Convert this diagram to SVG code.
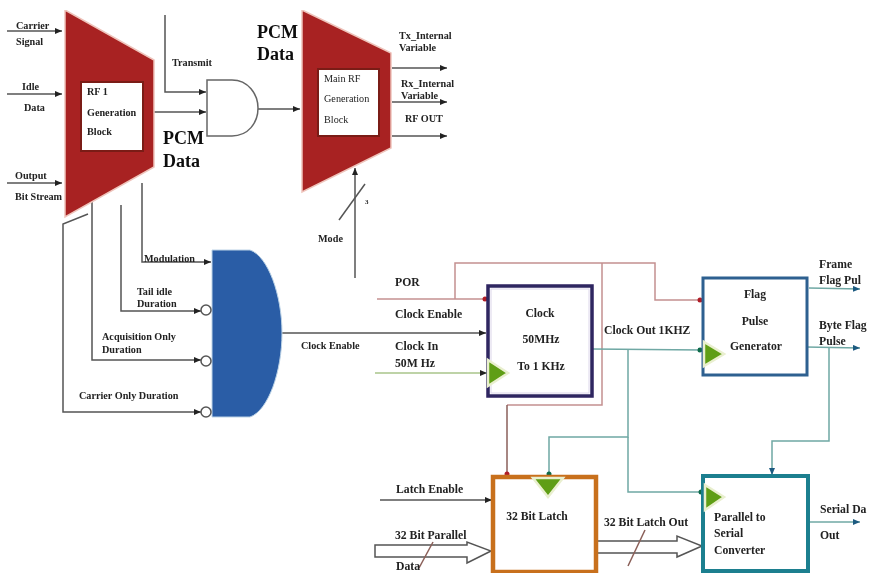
<svg xmlns="http://www.w3.org/2000/svg" width="870" height="574" viewBox="0 0 870 574">
<style>
text{font-family:"Liberation Serif","Times New Roman",serif;font-weight:bold;fill:#222}
.s{font-size:10.2px}
.m{font-size:11.7px}
.b{font-size:18px;fill:#111}
.w{fill:none;stroke-width:1.5;stroke-linejoin:miter}
.k{stroke:#555}
.p{stroke:#c49090}
.r{stroke:#8a5f58}
.t{stroke:#6fa8a4}
.g{stroke:#a9c48a}
.inv{fill:#fff;stroke:#555;stroke-width:1.5}
.trap{fill:#a82320;stroke:#efc4bc;stroke-width:1.5}
.inner{fill:#fff;stroke:#7a1a18;stroke-width:2}
.clk{fill:#5f9e12;stroke:#e9efcf;stroke-width:2.5}
</style>
<defs>
<marker id="ak" markerWidth="8" markerHeight="8" refX="7" refY="3" orient="auto" markerUnits="userSpaceOnUse"><path d="M0,0L7,3L0,6z" fill="#222"/></marker>
<marker id="ar" markerWidth="6" markerHeight="6" refX="5" refY="3" orient="auto" markerUnits="userSpaceOnUse"><circle cx="3" cy="3" r="2.5" fill="#b01c28"/></marker>
<marker id="ag" markerWidth="6" markerHeight="6" refX="5" refY="3" orient="auto" markerUnits="userSpaceOnUse"><circle cx="3" cy="3" r="2.5" fill="#0e6a4a"/></marker>
<marker id="ab" markerWidth="8" markerHeight="8" refX="7" refY="3" orient="auto" markerUnits="userSpaceOnUse"><path d="M0,0L7,3L0,6z" fill="#1d5a80"/></marker>
<filter id="soft" x="0" y="0" width="100%" height="100%"><feGaussianBlur stdDeviation="0.45"/></filter>
</defs>
<rect width="870" height="574" fill="#fff"/>
<g filter="url(#soft)">
<g id="connectors">
<path class="w k" marker-end="url(#ak)" d="M7,31H62"/>
<path class="w k" marker-end="url(#ak)" d="M7,94H62"/>
<path class="w k" marker-end="url(#ak)" d="M7,183H62"/>
<path class="w k" marker-end="url(#ak)" d="M165,15V92H206"/>
<path class="w k" marker-end="url(#ak)" d="M154,112H206"/>
<path class="w k" marker-end="url(#ak)" d="M258,109H300"/>
<path class="w k" marker-end="url(#ak)" d="M392,68H447"/>
<path class="w k" marker-end="url(#ak)" d="M392,102H447"/>
<path class="w k" marker-end="url(#ak)" d="M392,136H447"/>
<path class="w k" marker-end="url(#ak)" d="M355,278V168"/>
<path class="w k" d="M339,220L365,184"/>
<path class="w k" marker-end="url(#ak)" d="M142,183V262H211"/>
<path class="w k" marker-end="url(#ak)" d="M121,205V311H201"/>
<path class="w k" marker-end="url(#ak)" d="M92,185V360H201"/>
<path class="w k" marker-end="url(#ak)" d="M88,214L63,224V412H201"/>
<path class="w k" marker-end="url(#ak)" d="M282,333H486"/>
<path class="w p" marker-end="url(#ar)" d="M377,299H487"/>
<path class="w p" marker-end="url(#ar)" d="M455,299V263H655V300H702"/>
<path class="w p" d="M602,263V405H507"/>
<path class="w r" marker-end="url(#ar)" d="M507,405V476"/>
<path class="w g" marker-end="url(#ak)" d="M375,373H487"/>
<path class="w t" marker-end="url(#ag)" d="M592,349L702,350"/>
<path class="w t" marker-end="url(#ag)" d="M628,350V437H549V476"/>
<path class="w t" marker-end="url(#ag)" d="M628,437V492H703"/>
<path class="w t" marker-end="url(#ab)" d="M809,288L860,289"/>
<path class="w t" marker-end="url(#ab)" d="M806,347L860,348"/>
<path class="w t" marker-end="url(#ab)" d="M829,348V441H772V475"/>
<path class="w k" marker-end="url(#ak)" d="M380,500H492"/>
<path class="w t" marker-end="url(#ab)" d="M808,522H860"/>
<path class="w k" fill="#fff" d="M375,545H467V542L491,551L467,563V557H375z"/>
<path class="w r" d="M433,542L419,568"/>
<path class="w k" d="M597,541H677V536L702,546L677,557V553H597"/>
<path class="w r" d="M645,530L628,566"/>
</g>
<g id="rf1-block">
<path class="trap" d="M65,10L154,60V167L65,217z"/>
<rect class="inner" x="81" y="82" width="62" height="69"/>
<text class="s" x="87" y="95">RF 1</text>
<text class="s" x="87" y="116">Generation</text>
<text class="s" x="87" y="135">Block</text>
</g>
<g id="and-gate">
<path d="M207,80H232C248,80 258,94 258,108C258,123 248,136 232,136H207z" fill="#fff" stroke="#666" stroke-width="1.5"/>
</g>
<g id="main-rf-block">
<path class="trap" d="M302,10L391,53V148L302,192z"/>
<rect class="inner" x="318" y="69" width="61" height="67"/>
<text class="s" x="324" y="82" style="font-weight:normal">Main RF</text>
<text class="s" x="324" y="102" style="font-weight:normal">Generation</text>
<text class="s" x="324" y="123" style="font-weight:normal">Block</text>
</g>
<g id="blue-gate">
<path d="M212,250H250C268,256 282,295 282,333C282,372 268,411 250,417H212z" fill="#2a5da6" stroke="#bcd3e6" stroke-width="1"/>
<circle class="inv" cx="206" cy="310" r="5"/>
<circle class="inv" cx="206" cy="361" r="5"/>
<circle class="inv" cx="206" cy="412" r="5"/>
</g>
<g id="clock-block">
<rect x="488" y="286" width="104" height="110" fill="#fff" stroke="#2e2560" stroke-width="3.5"/>
<rect x="491" y="289" width="98" height="104" fill="none" stroke="#dcd6ea" stroke-width="1"/>
<path class="clk" d="M488,360V386L508,373z"/>
<text class="m" x="540" y="317" text-anchor="middle">Clock</text>
<text class="m" x="541" y="343" text-anchor="middle">50MHz</text>
<text class="m" x="541" y="370" text-anchor="middle">To 1 KHz</text>
</g>
<g id="flag-block">
<rect x="703" y="278" width="104" height="97" fill="#fff" stroke="#2f6090" stroke-width="3"/>
<path class="clk" d="M704,342V366L724,354z"/>
<text class="m" x="755" y="298" text-anchor="middle">Flag</text>
<text class="m" x="755" y="325" text-anchor="middle">Pulse</text>
<text class="m" x="756" y="350" text-anchor="middle">Generator</text>
</g>
<g id="latch-block">
<rect x="493" y="477" width="103" height="95" fill="#fff" stroke="#c8701e" stroke-width="4.5"/>
<path class="clk" d="M533,478H563L548,497z"/>
<text class="m" x="537" y="520" text-anchor="middle">32 Bit Latch</text>
</g>
<g id="converter-block">
<rect x="703" y="476" width="105" height="95" fill="#fff" stroke="#1f7f8f" stroke-width="4"/>
<path class="clk" d="M705,485V510L724,497z"/>
<text class="m" x="714" y="521">Parallel to</text>
<text class="m" x="714" y="537">Serial</text>
<text class="m" x="714" y="554">Converter</text>
</g>
<g id="labels">
<text class="s" x="16" y="29">Carrier</text>
<text class="s" x="16" y="45">Signal</text>
<text class="s" x="22" y="90">Idle</text>
<text class="s" x="24" y="111">Data</text>
<text class="s" x="15" y="179">Output</text>
<text class="s" x="15" y="200">Bit Stream</text>
<text class="s" x="172" y="66">Transmit</text>
<text class="b" x="163" y="144">PCM</text>
<text class="b" x="163" y="167">Data</text>
<text class="b" x="257" y="38">PCM</text>
<text class="b" x="257" y="60">Data</text>
<text class="s" x="399" y="39">Tx_Internal</text>
<text class="s" x="399" y="51">Variable</text>
<text class="s" x="401" y="87">Rx_Internal</text>
<text class="s" x="401" y="99">Variable</text>
<text class="s" x="405" y="122">RF OUT</text>
<text class="s" x="318" y="242">Mode</text>
<text x="365" y="204" style="font-size:7px">3</text>
<text class="s" x="144" y="262">Modulation</text>
<text class="s" x="137" y="295">Tail idle</text>
<text class="s" x="137" y="307">Duration</text>
<text class="s" x="102" y="340">Acquisition Only</text>
<text class="s" x="102" y="353">Duration</text>
<text class="s" x="79" y="399">Carrier Only Duration</text>
<text class="s" x="301" y="349">Clock Enable</text>
<text class="m" x="395" y="286">POR</text>
<text class="m" x="395" y="318">Clock Enable</text>
<text class="m" x="395" y="350">Clock In</text>
<text class="m" x="395" y="367">50M Hz</text>
<text class="m" x="604" y="334">Clock Out 1KHZ</text>
<text class="m" x="819" y="268">Frame</text>
<text class="m" x="819" y="284">Flag Pul</text>
<text class="m" x="819" y="329">Byte Flag</text>
<text class="m" x="819" y="345">Pulse</text>
<text class="m" x="396" y="493">Latch Enable</text>
<text class="m" x="395" y="539">32 Bit Parallel</text>
<text class="m" x="396" y="570">Data</text>
<text class="m" x="604" y="526">32 Bit Latch Out</text>
<text class="m" x="820" y="513">Serial Da</text>
<text class="m" x="820" y="539">Out</text>
</g>
</g>
</svg>
